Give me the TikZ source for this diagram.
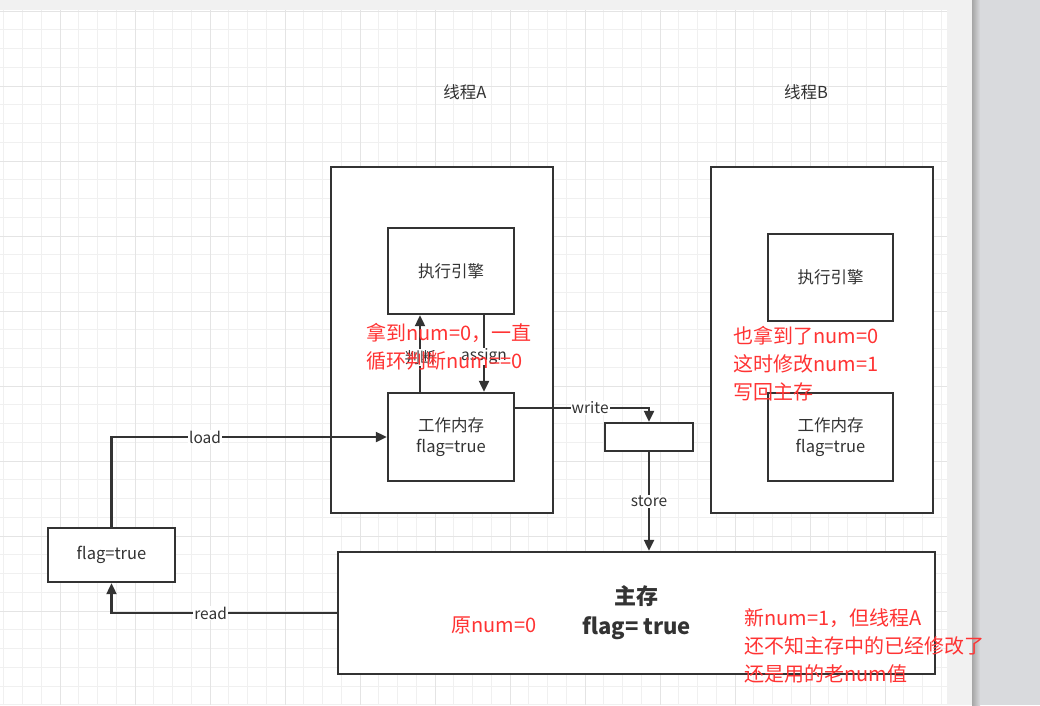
\documentclass[tikz,border=0pt]{standalone}
\usepackage{fontspec}
\setmainfont{Noto Sans CJK SC}
\usetikzlibrary{arrows.meta}
\definecolor{ln}{HTML}{333333}
\definecolor{rd}{HTML}{FF3333}
\definecolor{gmin}{HTML}{F0F0F0}
\definecolor{gmaj}{HTML}{E4E4E4}
\definecolor{pane}{HTML}{F1F1F1}
\definecolor{dark}{HTML}{D9DADD}
\tikzset{
  box/.style={draw=ln, line width=2.4pt, fill=white, inner sep=0pt, text=ln, font=\fontsize{16.5}{20.5}\selectfont, align=center},
  arr/.style={draw=ln, line width=2.2pt, -{Triangle[length=11pt,width=10pt]}},
  lbl/.style={fill=white, inner sep=1pt, text=ln, font=\fontsize{15.5}{18}\selectfont},
  plain/.style={inner sep=0pt, text=ln, font=\fontsize{16.5}{18}\selectfont},
  note/.style={inner sep=0pt, text=rd, align=left, anchor=west, font=\fontsize{20}{27.7}\selectfont},
}
\begin{document}
\begin{tikzpicture}[x=1pt,y=-1pt]
\useasboundingbox (0,0) rectangle (1040,705);
% background
\fill[white] (0,0) rectangle (947,705);
\fill[pane] (0,0) rectangle (972,10);
\fill[pane] (947,0) rectangle (972,705);
\fill[dark] (972,0) rectangle (1040,705);
\shade[left color=gray!70, right color=dark] (972,0) rectangle (980,705);
% grid
\foreach \i in {0,...,50} \draw[gmin, line width=1pt] ({3.75+18.75*\i},10) -- ({3.75+18.75*\i},705);
\foreach \j in {0,...,37} \draw[gmin, line width=1pt] (0,{11+18.75*\j}) -- (947,{11+18.75*\j});
\foreach \i in {0,...,11} \draw[gmaj, line width=1pt] ({60+75*\i},10) -- ({60+75*\i},705);
\foreach \j in {0,...,8} \draw[gmaj, line width=1pt] (0,{11+75*\j}) -- (947,{11+75*\j});

% titles
\node[plain] (ta) at (465,92) {线程A};
\node[plain] (tb) at (806,92) {线程B};

% thread boxes
\node[box, minimum width=222pt, minimum height=346pt] (thA) at (442,340) {};
\node[box, minimum width=222pt, minimum height=346pt] (thB) at (822,340) {};

\node[box, minimum width=126pt, minimum height=86pt] (engA) at (451,271) {执行引擎};
\node[box, minimum width=126pt, minimum height=88pt] (memA) at (451,437) {工作内存\\flag=true};
\node[box, minimum width=125pt, minimum height=87pt] (engB) at (830.5,277.5) {执行引擎};
\node[box, minimum width=125pt, minimum height=88pt] (memB) at (830.5,437) {工作内存\\flag=true};

\node[box, minimum width=88pt, minimum height=28pt] (small) at (649,437) {};
\node[box, minimum width=597pt, minimum height=122pt, font=\bfseries\fontsize{22}{30}\selectfont] (main) at (636.5,613) {主存\\flag= true};
\node[box, minimum width=127pt, minimum height=54pt] (flag) at (111.5,555) {flag=true};

% connectors
\draw[arr] (flag.north) |- (memA.west) node[lbl, pos=0.67] {load};
\draw[arr] (main.west) -| (flag.south) node[lbl, pos=0.28] {read};
\draw[arr] ([yshift=29pt]memA.east) -| (small.north) node[lbl, pos=0.28] {write};
\draw[arr] (small.south) -- (small.south |- main.north) node[lbl, midway] {store};
\draw[arr] ([xshift=-31pt]memA.north) -- ([xshift=-31pt]engA.south) node[lbl, midway, yshift=-4pt] {判断};
\draw[arr] ([xshift=33pt]engA.south) -- ([xshift=33pt]memA.north) node[lbl, midway, yshift=-3pt] {assign};

% notes
\node[note] (n1) at (366,347) {拿到num=0，一直\\循环判断num==0};
\node[note] (n2) at (733,363.5) {也拿到了num=0\\这时修改num=1\\写回主存};
\node[note] (n3) at (451,625) {原num=0};
\node[note] (n4) at (744,646) {新num=1，但线程A\\还不知主存中的已经修改了\\还是用的老num值};
\end{tikzpicture}
\end{document}
